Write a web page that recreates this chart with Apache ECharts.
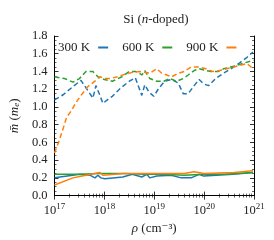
<!DOCTYPE html>
<html><head><meta charset="utf-8">
<script src="https://cdn.jsdelivr.net/npm/echarts@6/dist/echarts.min.js"></script>
<style>html,body{margin:0;padding:0;background:#fff}#c{width:274px;height:240px}</style>
</head><body><div id="c"></div>
<script>
// log10 of carrier density and effective-mass values
const blueDashX = [17.0,17.18,17.37,17.53,17.77,17.83,17.91,17.97,18.06,18.16,18.32,18.5,18.62,18.75,18.81,18.89,18.99,19.09,19.21,19.34,19.48,19.58,19.68,19.8,19.9,19.99,20.09,20.23,20.39,20.59,20.72,20.86,20.98];
const blueDashY = [1.08,1.14,1.23,1.3,1.1,1.24,1.13,1.04,1.08,1.12,1.21,1.29,1.33,1.13,1.25,1.17,1.12,1.21,1.29,1.31,1.27,1.15,1.15,1.24,1.31,1.26,1.24,1.32,1.38,1.45,1.5,1.56,1.62];
const greenDashX = [17.0,17.2,17.37,17.5,17.63,17.77,17.87,18.0,18.16,18.35,18.5,18.62,18.7,18.75,18.81,18.91,19.05,19.19,19.31,19.45,19.58,19.68,19.8,19.9,20.04,20.14,20.28,20.39,20.53,20.67,20.77,20.89,20.99];
const greenDashY = [1.34,1.32,1.28,1.32,1.4,1.4,1.34,1.31,1.29,1.34,1.4,1.4,1.38,1.36,1.41,1.32,1.29,1.29,1.32,1.29,1.32,1.36,1.41,1.43,1.41,1.4,1.4,1.43,1.45,1.47,1.49,1.51,1.53];
const orangeDashX = [17.0,17.08,17.18,17.24,17.34,17.42,17.53,17.67,17.81,17.91,18.01,18.11,18.26,18.42,18.56,18.7,18.81,18.91,19.05,19.15,19.25,19.35,19.48,19.6,19.74,19.9,20.04,20.17,20.31,20.45,20.59,20.72,20.86,20.98];
const orangeDashY = [0.48,0.6,0.77,0.88,0.96,1.04,1.13,1.23,1.29,1.34,1.32,1.32,1.34,1.37,1.39,1.4,1.39,1.38,1.43,1.38,1.36,1.34,1.38,1.4,1.45,1.45,1.43,1.4,1.41,1.43,1.45,1.47,1.49,1.43];
const blueSolidX = [17.0,17.51,17.71,17.81,17.87,17.93,18.01,18.37,18.56,18.75,18.85,18.91,19.05,19.34,19.54,19.74,19.9,19.99,20.58,20.98];
const blueSolidY = [0.2,0.24,0.23,0.2,0.23,0.2,0.19,0.21,0.24,0.21,0.24,0.2,0.22,0.23,0.2,0.2,0.24,0.22,0.24,0.26];
const greenSolidX = [17.0,17.5,17.9,18.4,18.8,19.2,19.6,20.0,20.4,20.98];
const greenSolidY = [0.24,0.24,0.25,0.25,0.24,0.24,0.23,0.24,0.24,0.26];
const orangeSolidX = [17.0,17.37,17.63,17.91,17.97,18.4,18.8,19.2,19.6,19.8,20.0,20.6,20.98];
const orangeSolidY = [0.12,0.2,0.23,0.26,0.23,0.25,0.25,0.25,0.25,0.27,0.25,0.26,0.28];
const seriesNames = ['300 K','600 K','900 K'];
const colors = ['#1f77b4','#2ca02c','#ff7f0e'];

function pts(xs, ys){ return xs.map((x,i)=>[Math.pow(10,x), ys[i]]); }
const font = '"Liberation Serif","DejaVu Serif",serif';
const FS = 12.5;
const chart = echarts.init(document.getElementById('c'), null, {renderer:'canvas'});
const dashed = [blueDashX,blueDashY,greenDashX,greenDashY,orangeDashX,orangeDashY];
const solid = [blueSolidX,blueSolidY,greenSolidX,greenSolidY,orangeSolidX,orangeSolidY];
const series = [];
for (let k=0;k<3;k++){
  series.push({name:seriesNames[k], type:'line', data:pts(solid[2*k],solid[2*k+1]), symbol:'none',
    lineStyle:{color:colors[k], width:1.5}, itemStyle:{color:colors[k]}, silent:true});
}
for (let k=0;k<3;k++){
  series.push({name:seriesNames[k], type:'line', data:pts(dashed[2*k],dashed[2*k+1]), symbol:'none',
    lineStyle:{color:colors[k], width:1.5, type:[5,3]}, itemStyle:{color:colors[k]}, silent:true});
}
const tickCommon = {show:true, inside:true, length:4, lineStyle:{color:'#000', width:0.8}};
const minorCommon = {show:true, splitNumber:4, length:2, lineStyle:{color:'#000', width:0.6}};
const xBase = {type:'log', logBase:10, min:1e17, max:1e21,
  axisLine:{show:true, lineStyle:{color:'#000', width:1}}, splitLine:{show:false},
  axisTick:tickCommon, minorTick:{show:true, splitNumber:9, length:2, lineStyle:{color:'#000', width:0.6}}};
const yBase = {type:'value', min:0, max:1.8, interval:0.2,
  axisLine:{show:true, lineStyle:{color:'#000', width:1}}, splitLine:{show:false},
  axisTick:tickCommon, minorTick:minorCommon};
const option = {
  animation:false,
  title:{text:'Si ({i|n}-doped)', left:151, textAlign:'center', top:8,
    textStyle:{fontFamily:font, fontSize:13, fontWeight:'normal', color:'#222',
      rich:{i:{fontFamily:font, fontSize:13, fontStyle:'italic', color:'#222'}}}},
  grid:{left:51, right:20, top:36, bottom:41},
  legend:{data:seriesNames, top:41, left:58, align:'right', itemGap:14, itemWidth:10, itemHeight:2,
    icon:'rect', padding:0, textStyle:{fontFamily:font, fontSize:13, color:'#222', padding:[0,3,0,0]}},
  xAxis:[
    Object.assign({}, xBase, {position:'bottom',
      axisLabel:{fontFamily:font, color:'#222', fontSize:FS, margin:7,
        formatter:function(v){ const e=Math.round(Math.log10(v)); return '{b|10}{s|'+e+'}'; },
        rich:{b:{fontFamily:font, fontSize:FS, color:'#222'}, s:{fontFamily:font, fontSize:9, color:'#222', verticalAlign:'bottom', padding:[0,0,7,0]}}},
      name:'{i|ρ} (cm⁻³)', nameLocation:'middle', nameGap:23,
      nameTextStyle:{fontFamily:font, fontSize:13, color:'#222',
        rich:{i:{fontFamily:font, fontSize:13, fontStyle:'italic', color:'#222'}}}}),
    Object.assign({}, xBase, {position:'top', axisLabel:{show:false}})
  ],
  yAxis:[
    Object.assign({}, yBase, {position:'left',
      axisLabel:{fontFamily:font, color:'#222', fontSize:FS, margin:7, formatter:function(v){return v.toFixed(1);}},
      name:'{i|m̄} ({i|m}{s|e})', nameLocation:'middle', nameGap:33,
      nameTextStyle:{fontFamily:font, fontSize:13, color:'#222',
        rich:{i:{fontFamily:font, fontSize:13, fontStyle:'italic', color:'#222'}, s:{fontFamily:font, fontSize:9, fontStyle:'italic', color:'#222', verticalAlign:'bottom'}}}}),
    Object.assign({}, yBase, {position:'right', axisLabel:{show:false}})
  ],
  series:series
};
chart.setOption(option);
</script></body></html>
